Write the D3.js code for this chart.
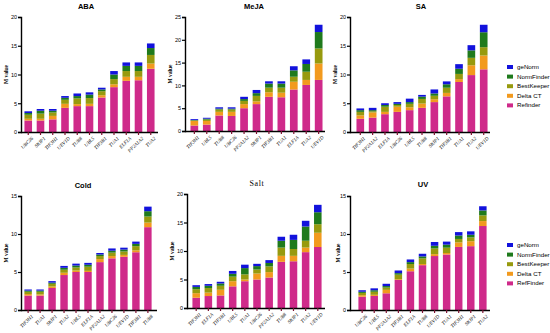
<!DOCTYPE html>
<html>
<head>
<meta charset="utf-8">
<script src="https://cdn.jsdelivr.net/npm/d3@7"></script>
<style>
  body { margin: 0; background: #fff; }
  svg { display: block; }
</style>
</head>
<body>
<svg></svg>
<script>
const width = 550;
const height = 333;

const methods = ['RefFinder', 'Delta CT', 'BestKeeper', 'NormFinder', 'geNorm'];
const colors = ['#cf2a8a', '#f29a1e', '#979a0e', '#1f7a1c', '#1212dc'];

// ABA
const abaGenes = ['UBC36', 'SKIP1', 'TIF3H1', 'UEV1D', 'TUB8', 'UBL5', 'TIF3B1', 'TUA1', 'ELF1A', 'PP2A1A2', 'TUA2'];
const abaRef = [2.0, 2.0, 2.2, 4.2, 4.5, 4.5, 6.0, 7.8, 8.9, 9.0, 11.0];
const abaDct = [0.3, 0.3, 0.6, 0.7, 0.35, 0.4, 0.4, 0.5, 0.7, 0.6, 0.9];
const abaBk = [0.7, 0.9, 0.6, 0.7, 1.0, 1.0, 0.7, 0.9, 1.0, 1.0, 1.5];
const abaNf = [0.3, 0.5, 0.3, 0.35, 0.4, 0.6, 0.3, 0.8, 0.9, 0.9, 1.2];
const abaGn = [0.3, 0.3, 0.3, 0.3, 0.45, 0.4, 0.3, 0.6, 0.6, 0.6, 0.8];

// MeJA
const mejaGenes = ['TIF3H1', 'UBL5', 'TUB8', 'UBC36', 'PP2A1A2', 'SKIP1', 'TIF3B1', 'TUA1', 'ELF1A', 'TUA2', 'UEV1D'];
const mejaRef = [1.2, 1.4, 3.4, 3.3, 5.0, 5.9, 7.5, 7.4, 9.1, 10.1, 11.2];
const mejaDct = [1.0, 0.8, 0.8, 0.9, 0.9, 0.6, 1.0, 1.0, 1.7, 1.1, 3.6];
const mejaBk = [0.1, 0.3, 0.5, 0.5, 0.7, 1.2, 1.0, 1.1, 1.1, 1.8, 3.3];
const mejaNf = [0.1, 0.2, 0.2, 0.2, 0.4, 0.6, 0.9, 0.9, 1.4, 1.7, 3.6];
const mejaGn = [0.2, 0.2, 0.3, 0.3, 0.5, 0.7, 0.5, 0.5, 0.9, 1.0, 1.6];

// SA
const saGenes = ['TIF3H1', 'PP2A1A2', 'ELF1A', 'UBC36', 'UBL5', 'TUB8', 'SKIP1', 'TIF3B1', 'TUA1', 'TUA2', 'UEV1D'];
const saRef = [2.3, 2.5, 3.1, 3.5, 3.8, 4.2, 5.2, 6.2, 8.7, 9.9, 10.9];
const saDct = [0.6, 0.9, 0.4, 0.9, 0.5, 0.75, 0.5, 0.6, 0.5, 1.7, 2.4];
const saBk = [0.6, 0.2, 0.9, 0.3, 0.6, 0.8, 0.6, 0.9, 0.9, 1.3, 1.45];
const saNf = [0.3, 0.2, 0.3, 0.2, 0.3, 0.4, 0.4, 0.6, 0.9, 1.3, 2.6];
const saGn = [0.3, 0.4, 0.3, 0.3, 0.6, 0.3, 0.7, 0.5, 0.8, 0.9, 1.3];

// Cold
const coldGenes = ['TIF3H1', 'TUA1', 'SKIP1', 'TUA2', 'UBL5', 'ELF1A', 'PP2A1A2', 'UBC36', 'UEV1D', 'TIF3B1', 'TUB8'];
const coldRef = [1.9, 1.9, 2.9, 4.6, 5.0, 5.0, 6.3, 6.8, 7.0, 7.6, 10.9];
const coldDct = [0.2, 0.15, 0.2, 0.3, 0.2, 0.15, 0.4, 0.3, 0.25, 0.25, 0.6];
const coldBk = [0.3, 0.35, 0.35, 0.4, 0.4, 0.55, 0.4, 0.45, 0.45, 0.55, 0.8];
const coldNf = [0.15, 0.15, 0.15, 0.25, 0.25, 0.25, 0.2, 0.25, 0.25, 0.3, 0.7];
const coldGn = [0.15, 0.15, 0.2, 0.25, 0.25, 0.25, 0.2, 0.3, 0.25, 0.3, 0.6];

// Salt
const saltGenes = ['TIF3H1', 'ELF1A', 'TIF3B1', 'UBL5', 'TUA1', 'UBC36', 'PP2A1A2', 'TUB8', 'SKIP1', 'TUA2', 'UEV1D'];
const saltRef = [1.8, 2.1, 2.2, 3.8, 4.7, 5.0, 5.35, 8.1, 8.2, 9.8, 10.7];
const saltDct = [0.8, 0.6, 1.0, 0.9, 0.3, 1.05, 0.95, 1.05, 0.95, 0.8, 2.5];
const saltBk = [0.7, 0.8, 0.7, 0.8, 0.9, 0.7, 1.0, 1.45, 1.2, 1.2, 1.5];
const saltNf = [0.4, 0.4, 0.4, 0.5, 1.1, 0.6, 0.6, 1.2, 1.6, 2.5, 2.1];
const saltGn = [0.3, 0.3, 0.3, 0.5, 0.6, 0.4, 0.5, 0.7, 0.9, 1.0, 1.3];

// UV
const uvGenes = ['UBC36', 'UBL5', 'PP2A1A2', 'TIF3B1', 'ELF1A', 'TUB8', 'UEV1D', 'TUA1', 'TIF3H1', 'SKIP1', 'TUA2'];
const uvRef = [1.75, 1.85, 2.2, 3.95, 5.1, 5.9, 7.1, 7.3, 8.3, 8.4, 11.05];
const uvDct = [0.2, 0.15, 0.45, 0.1, 0.35, 0.15, 0.25, 0.2, 0.6, 0.65, 0.65];
const uvBk = [0.3, 0.4, 0.3, 0.6, 0.6, 0.75, 0.75, 0.7, 0.45, 0.5, 0.75];
const uvNf = [0.15, 0.2, 0.2, 0.2, 0.25, 0.25, 0.35, 0.4, 0.45, 0.35, 0.65];
const uvGn = [0.2, 0.25, 0.3, 0.35, 0.35, 0.35, 0.5, 0.4, 0.45, 0.45, 0.55];

const panels = [
    {title: 'ABA', genes: abaGenes, series: [abaRef, abaDct, abaBk, abaNf, abaGn], max: 20,
     x0: 21, x1: 158, b0: 22, b1: 157, y0: 132, yTop: 17, tx: 86, ty: 9, lx: 8},
    {title: 'MeJA', genes: mejaGenes, series: [mejaRef, mejaDct, mejaBk, mejaNf, mejaGn], max: 25,
     x0: 185, x1: 325, b0: 188, b1: 325, y0: 131, yTop: 17, tx: 254, ty: 9, lx: 172},
    {title: 'SA', genes: saGenes, series: [saRef, saDct, saBk, saNf, saGn], max: 20,
     x0: 350, x1: 490, b0: 354, b1: 490, y0: 132, yTop: 17, tx: 421, ty: 9, lx: 337,
     legend: {x: 507, y: 67, last: 'Refinder'}},
    {title: 'Cold', genes: coldGenes, series: [coldRef, coldDct, coldBk, coldNf, coldGn], max: 15,
     x0: 21, x1: 157, b0: 22, b1: 154, y0: 310, yTop: 196, tx: 83, ty: 188, lx: 8},
    {title: 'Salt', genes: saltGenes, series: [saltRef, saltDct, saltBk, saltNf, saltGn], max: 20,
     x0: 187, x1: 325, b0: 190, b1: 324, y0: 308, yTop: 194, tx: 257, ty: 186, lx: 174, serif: true},
    {title: 'UV', genes: uvGenes, series: [uvRef, uvDct, uvBk, uvNf, uvGn], max: 15,
     x0: 350, x1: 490, b0: 356, b1: 489, y0: 310, yTop: 196, tx: 423, ty: 187, lx: 340,
     legend: {x: 507, y: 245, last: 'RefFinder'}}
];

const svg = d3.select('svg')
    .attr('width', width).attr('height', height)
    .style('font-family', 'Liberation Sans, Arial, sans-serif');

panels.forEach(drawPanel);

function drawPanel(p) {
    const g = svg.append('g');

    const x = d3.scaleBand()
        .domain(p.genes)
        .range([p.b0, p.b1])
        .paddingInner(0.38)
        .paddingOuter(0.2);

    const y = d3.scaleLinear()
        .domain([0, p.max])
        .range([p.y0, p.yTop]);

    // one row per gene for the stack
    const rows = p.genes.map((gene, i) => {
        const r = {gene: gene};
        methods.forEach((m, j) => { r[m] = p.series[j][i]; });
        return r;
    });
    const stacked = d3.stack().keys(methods)(rows);

    g.selectAll('g.layer')
        .data(stacked)
        .enter().append('g')
        .attr('class', 'layer')
        .attr('fill', (d, i) => colors[i])
        .selectAll('rect')
        .data(d => d)
        .enter().append('rect')
        .attr('x', d => x(d.data.gene))
        .attr('width', x.bandwidth())
        .attr('y', d => y(d[1]))
        .attr('height', d => y(d[0]) - y(d[1]));

    // y axis
    const yAxis = g.append('g')
        .attr('transform', `translate(${p.x0},0)`)
        .call(d3.axisLeft(y).ticks(p.max / 5).tickSize(3).tickPadding(1));
    yAxis.select('.domain').attr('stroke-width', 1.4);
    yAxis.selectAll('.tick line').attr('stroke-width', 1.2);
    yAxis.selectAll('text').style('font-size', '5.5px');

    // x axis
    const xAxis = g.append('g')
        .attr('transform', `translate(0,${p.y0})`)
        .call(d3.axisBottom(x).tickSize(3).tickSizeOuter(0));
    xAxis.select('.domain').attr('d', `M${p.x0},0.5H${p.x1}`).attr('stroke-width', 1.4);
    xAxis.selectAll('.tick line').attr('stroke', '#7a1030').attr('stroke-width', 1.2);
    xAxis.selectAll('text')
        .attr('transform', 'rotate(-45)')
        .attr('text-anchor', 'end')
        .attr('dx', '-0.2em')
        .attr('dy', '0.5em')
        .style('font-family', 'Liberation Serif, Times New Roman, serif')
        .style('font-style', 'italic')
        .style('font-size', '5px');

    // title
    g.append('text')
        .attr('x', p.tx).attr('y', p.ty)
        .attr('text-anchor', 'middle')
        .style('font-family', p.serif ? 'Liberation Serif, serif' : null)
        .style('font-weight', p.serif ? 'normal' : 'bold')
        .style('font-size', p.serif ? '8px' : '7.5px')
        .style('letter-spacing', p.serif ? '0.6px' : null)
        .text(p.title);

    // y label
    g.append('text')
        .attr('transform', `translate(${p.lx},${(p.y0 + p.yTop) / 2}) rotate(-90)`)
        .attr('text-anchor', 'middle')
        .style('font-family', 'Liberation Serif, serif')
        .style('font-weight', 'bold')
        .style('font-size', '5.5px')
        .text('M value');

    if (p.legend) drawLegend(p.legend);
}

function drawLegend(l) {
    const names = ['geNorm', 'NormFinder', 'BestKeeper', 'Delta CT', l.last];
    const cols = colors.slice().reverse();
    const lg = svg.append('g');
    const item = lg.selectAll('g')
        .data(names)
        .enter().append('g')
        .attr('transform', (d, i) => `translate(${l.x},${l.y + i * 9.6})`);
    item.append('rect')
        .attr('x', 0).attr('y', -2)
        .attr('width', 6).attr('height', 4)
        .attr('fill', (d, i) => cols[i]);
    item.append('text')
        .attr('x', 10).attr('y', 2)
        .style('font-size', '6.2px')
        .text(d => d);
}
</script>
</body>
</html>
